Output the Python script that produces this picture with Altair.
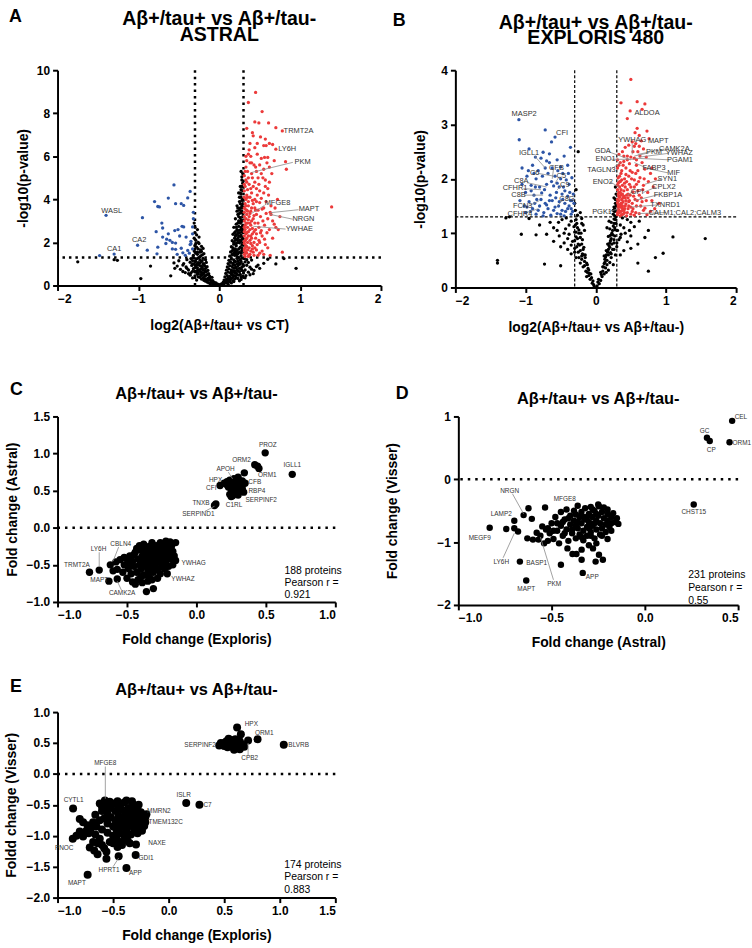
import altair as alt
import pandas as pd

FONT = "Liberation Sans"
RED = "#ec3a3a"
BLUE = "#2d55a6"
LABEL_GREY = "#333333"
LEADER_GREY = "#8a8a8a"
TITLE = "Aβ+/tau+ vs Aβ+/tau-"

# ---------------- Panel A (ASTRAL volcano) ----------------
a_up = [(0.45,8.97),(0.36,8.5),(0.53,8.08),(0.49,7.55),(0.61,7.55),(0.70,7.33),(0.78,7.18),(0.34,7.3),
        (0.41,7.1),(0.42,6.95),(0.57,6.8),(0.62,6.6),(0.66,6.55),(0.70,6.33),(0.55,6.5),(0.58,6.5),(0.36,6.1),
        (0.39,6.0),(0.47,6.1),(0.52,5.9),(0.56,5.95),(0.60,5.95),(0.68,5.8),(0.82,5.75),(0.83,5.4),(0.34,5.8),
        (0.38,5.7),(0.43,5.6),(0.45,5.5),(0.50,5.6),(0.55,5.4),(0.62,5.5),(0.65,5.2),(0.35,5.3),(0.40,5.2),
        (0.48,5.0),(0.52,5.2),(0.57,4.9),(0.62,4.8),(0.33,4.9),(0.37,4.7),(0.42,4.6),(0.46,4.5),(0.50,4.4),
        (0.55,4.3),(0.60,4.5),(0.31,4.4),(0.34,4.2),(0.38,4.1),(0.44,4.0),(0.52,4.05),(0.58,3.9),(0.32,3.8),
        (0.36,3.7),(0.40,3.6),(0.48,3.5),(0.55,3.6),(0.63,3.4),(1.39,3.65),(0.31,3.4),(0.34,3.3),(0.37,3.2),
        (0.42,3.1),(0.46,3.3),(0.51,3.2),(0.60,3.1),(0.64,3.3),(0.31,3.0),(0.35,2.9),(0.39,2.8),(0.44,2.9),
        (0.49,2.7),(0.56,2.8),(0.62,2.6),(0.70,2.7),(0.73,2.6),(0.32,2.6),(0.36,2.5),(0.41,2.4),(0.46,2.4),
        (0.53,2.3),(0.59,2.45),(0.31,2.3),(0.34,2.2),(0.38,2.1),(0.43,2.0),(0.50,2.0),(0.57,1.9),(0.31,1.95),
        (0.33,1.85),(0.37,1.75),(0.41,1.7),(0.46,1.65),(0.53,1.6),(0.78,1.55),(0.31,1.6),(0.34,1.5),(0.38,1.45),
        (0.43,1.4),(0.48,1.4),(0.32,1.35),(0.36,1.35),(0.32,4.6),(0.35,4.45),(0.33,4.0),(0.36,3.9),(0.32,3.55),
        (0.35,3.45),(0.38,3.35),(0.33,3.1),(0.36,3.05),(0.32,2.8),(0.35,2.7),(0.38,2.6),(0.33,2.4),(0.36,2.3),
        (0.32,2.1),(0.35,2.0),(0.39,1.95),(0.32,1.75),(0.35,1.65),(0.31,5.1),(0.33,5.5),(0.37,6.3),(0.44,6.4),
        (0.40,4.3),(0.42,3.8),(0.44,3.6),(0.40,3.0),(0.45,2.6),(0.40,2.2),(0.45,2.2),(0.42,1.55),(0.47,1.9),
        (0.52,2.55),(0.54,3.0),(0.58,3.35),(0.50,3.85),(0.47,4.2),(0.66,3.0),(0.68,2.85),(0.75,3.2),
        (0.31,1.45),(0.33,1.55),(0.31,1.7),(0.34,1.8),(0.31,2.05),(0.33,2.15),(0.31,2.5),(0.34,2.45),
        (0.31,2.7),(0.33,2.9),(0.31,3.2),(0.34,3.5),(0.31,3.6),(0.33,3.7),(0.31,4.1),(0.35,4.1),(0.31,4.7),
        (0.34,4.8),(0.32,5.3),(0.36,5.0),(0.33,6.0),(0.38,6.6),(0.37,1.4),(0.39,1.6),(0.41,1.85),(0.44,1.75),
        (0.39,2.3),(0.43,2.5),(0.41,2.65),(0.38,2.9),(0.43,3.25),(0.39,3.45),(0.45,3.5),(0.41,3.95),(0.46,3.9),
        (0.39,4.5),(0.44,4.8),(0.41,5.0),(0.46,5.3),(0.40,5.7),(0.49,2.1),(0.51,2.45),(0.48,2.9),(0.53,3.55),
        (0.49,4.7),(0.54,5.0),(0.59,5.7),(0.57,4.6),(0.61,4.2),(0.64,3.7),(0.56,2.15),(0.60,1.75),(0.66,2.2),
        (0.69,3.6),(0.72,4.0),(0.50,1.5),(0.55,1.45),(0.63,1.4),(0.47,6.6),(0.51,6.9),(0.44,7.6)]
a_down = [(-1.40,3.26),(-1.01,1.87),(-1.30,1.46),(-1.48,1.39),(-0.56,4.67),(-0.36,4.37),(-0.39,4.07),
          (-0.63,4.06),(-0.80,3.90),(-0.76,3.67),(-0.74,3.65),(-0.54,3.8),(-0.47,3.8),(-0.44,3.72),(-0.95,3.15),
          (-0.71,2.9),(-0.70,2.67),(-0.46,2.75),(-0.44,2.72),(-0.51,2.6),(-0.55,2.55),(-0.78,2.5),(-0.63,2.4),
          (-0.70,2.25),(-0.65,2.15),(-0.61,2.1),(-0.58,2.0),(-0.33,2.4),(-0.35,2.05),(-0.89,1.64),(-0.77,1.47),
          (-0.76,1.78),(-0.54,1.97),(-0.58,1.7),(-0.54,1.68),(-0.47,1.73),(-0.45,1.52),(-0.39,1.63),(-0.35,1.94),
          (-0.33,2.72),(-0.32,3.1),(-0.32,3.4),(-0.33,1.7),(-0.36,1.9),(-0.41,2.25),(-0.49,2.3),(-0.66,1.95),
          (-0.52,1.45),(-0.42,1.4),(-0.37,1.5)]
a_ns = [(-0.05,0.03),(-0.02,0.02),(0.01,0.02),(0.03,0.04),(-0.08,0.06),(0.06,0.07),(-0.13,0.12),(-0.10,0.15),
        (-0.07,0.10),(-0.04,0.12),(0.04,0.10),(0.07,0.14),(0.10,0.12),(0.13,0.18),(-0.17,0.20),(0.17,0.22),
        (-0.22,0.30),(-0.18,0.28),(-0.14,0.33),(-0.11,0.26),(-0.08,0.22),(0.06,0.25),(0.09,0.30),(0.12,0.27),
        (0.15,0.34),(0.19,0.30),(0.23,0.33),(0.27,0.28),(-0.30,0.45),(-0.26,0.40),(-0.22,0.47),(-0.18,0.42),
        (-0.15,0.50),(-0.12,0.44),(-0.09,0.38),(0.07,0.40),(0.10,0.46),(0.13,0.42),(0.16,0.50),(0.20,0.45),
        (0.24,0.48),(0.29,0.43),(0.33,0.46),(-0.36,0.48),(-0.42,0.60),(-0.35,0.58),(-0.30,0.63),(-0.26,0.56),
        (-0.22,0.62),(-0.19,0.57),(-0.16,0.64),(-0.13,0.55),(0.08,0.56),(0.11,0.62),(0.14,0.58),(0.17,0.65),
        (0.21,0.60),(0.25,0.64),(0.30,0.58),(0.36,0.62),(0.42,0.55),(-0.48,0.75),(-0.38,0.72),(-0.32,0.78),
        (-0.27,0.70),(-0.23,0.76),(-0.20,0.72),(-0.17,0.79),(-0.14,0.70),(0.09,0.71),(0.12,0.77),(0.15,0.73),
        (0.18,0.80),(0.22,0.74),(0.27,0.78),(0.32,0.72),(0.40,0.76),(-0.52,0.90),(-0.41,0.86),(-0.34,0.93),
        (-0.29,0.88),(-0.25,0.95),(-0.21,0.86),(-0.18,0.92),(-0.15,0.87),(0.10,0.86),(0.13,0.92),(0.16,0.88),
        (0.19,0.95),(0.23,0.90),(0.28,0.86),(0.34,0.94),(0.46,0.88),(-0.85,0.90),(-0.56,1.05),(-0.44,1.02),
        (-0.36,1.08),(-0.31,1.00),(-0.26,1.06),(-0.22,1.10),(-0.19,1.01),(-0.16,1.07),(0.11,1.02),(0.14,1.08),
        (0.17,1.03),(0.20,1.10),(0.24,1.05),(0.29,1.00),(0.36,1.07),(0.55,1.03),(0.70,1.00),(-0.50,1.15),
        (-0.40,1.20),(-0.33,1.16),(-0.28,1.24),(-0.24,1.18),(-0.20,1.26),(-0.17,1.20),(0.12,1.17),(0.15,1.23),
        (0.18,1.19),(0.22,1.26),(0.26,1.20),(0.31,1.25),(0.40,1.18),(0.60,1.22),(0.80,1.25),(-1.75,1.10),
        (-1.30,1.20),(-1.26,1.17),(-0.32,1.40),(-0.27,1.45),(-0.23,1.38),(-0.19,1.48),(0.13,1.36),(0.16,1.44),
        (0.19,1.40),(0.23,1.48),(0.27,1.38),(-0.31,1.60),(-0.26,1.70),(-0.22,1.58),(-0.20,1.72),(0.14,1.56),
        (0.17,1.66),(0.20,1.60),(0.24,1.70),(0.28,1.62),(-0.30,1.85),(-0.25,1.95),(-0.22,1.82),(0.15,1.80),
        (0.18,1.92),(0.21,1.85),(0.25,1.98),(0.28,1.88),(-0.29,2.10),(-0.25,2.25),(0.16,2.08),(0.19,2.20),
        (0.22,2.12),(0.26,2.28),(0.28,2.15),(-0.30,2.45),(-0.27,2.60),(0.17,2.38),(0.20,2.50),(0.23,2.42),
        (0.26,2.58),(0.29,2.47),(-0.31,2.90),(0.18,2.70),(0.21,2.85),(0.24,2.75),(0.27,2.95),(0.29,2.80),
        (0.20,3.10),(0.23,3.30),(0.26,3.15),(0.28,3.45),(0.25,3.50),(0.22,3.70),(0.25,3.90),(0.27,4.10),
        (0.29,3.80),(0.24,4.30),(0.26,4.60),(0.28,4.90),(0.29,5.20),(0.27,5.30),(-0.97,0.32),(0.95,0.80),
        (-0.60,0.45),(-0.09,0.20),(0.08,0.18),(-0.12,0.36),(0.11,0.34),(-0.20,0.52),(0.15,0.55),(-0.24,0.66),
        (0.19,0.68),(-0.27,0.82),(0.21,0.83),(-0.28,0.98),(0.25,0.98),(-0.30,1.12),(0.27,1.12),(0.24,1.30),
        (0.21,1.52),(0.26,1.78),(0.23,2.0),(0.24,2.3),(0.26,2.9),(0.29,3.2),(0.28,3.6),(0.29,4.4),
        (-0.03,0.08),(0.02,0.06),(-0.06,0.14),(0.05,0.16),(-0.10,0.19),(0.09,0.22),(-0.14,0.24),(0.12,0.20),
        (-0.16,0.30),(0.14,0.28),(-0.20,0.36),(0.17,0.38),(-0.24,0.38),(0.21,0.36),(-0.27,0.52),(0.18,0.46),
        (-0.21,0.55),(0.22,0.52),(-0.17,0.46),(0.26,0.52),(-0.33,0.66),(0.19,0.58),(-0.28,0.62),(0.23,0.68),
        (-0.25,0.72),(0.28,0.70),(-0.21,0.80),(0.15,0.65),(-0.18,0.68),(0.20,0.84),(-0.30,0.82),(0.25,0.80),
        (-0.23,0.90),(0.30,0.90),(-0.27,0.96),(0.17,0.97),(-0.20,0.98),(0.22,1.00),(-0.33,1.00),(0.26,1.05),
        (-0.24,1.04),(0.32,1.10),(-0.29,1.12),(0.19,1.13),(-0.21,1.16),(0.23,1.15),(-0.26,1.28),(0.28,1.28),
        (-0.35,1.25),(0.34,1.20),(-0.45,0.95),(0.38,0.85),(-0.40,0.80),(0.43,0.70),(-0.45,0.65),(0.48,0.95),
        (-0.55,0.80),(0.50,0.80),(-0.38,0.55),(0.38,0.50),(-0.33,0.35),(0.32,0.36),(-0.28,0.25),(0.25,0.22),
        (-0.24,1.32),(-0.21,1.42),(-0.24,1.55),(-0.27,1.55),(-0.23,1.65),(-0.28,1.78),(-0.26,2.00),(-0.28,2.35),
        (0.18,1.50),(0.20,1.70),(0.22,1.62),(0.25,1.55),(0.21,1.95),(0.23,2.20),(0.25,2.10),(0.27,2.35),
        (0.20,2.30),(0.22,2.60),(0.25,2.45),(0.28,2.65),(0.23,2.90),(0.27,3.05),(0.24,3.20),(0.22,3.45),
        (0.26,3.60),(0.28,3.95),(0.26,4.30),(0.28,4.60),(0.29,4.75),(0.00,0.01),(-0.01,0.05),(0.04,0.02),
        (-0.11,0.08),(0.11,0.06),(-0.15,0.16),(0.15,0.12),(-0.19,0.24),(0.18,0.18),(-0.23,0.50),(0.27,0.40),
        (0.27,1.50),(0.28,1.72),(0.29,1.95),(0.27,2.05),(0.29,2.25),(0.28,2.50),(0.29,2.60),(0.27,2.70),
        (0.28,3.00),(0.29,3.35),(0.27,3.40),(0.28,3.70),(0.29,4.00),(0.27,4.45),(0.28,5.05),(0.22,1.35),
        (0.20,1.45),(0.19,1.62),(0.16,1.60),(0.17,1.75),(0.18,2.00),(0.20,2.10),(0.21,2.35),(0.19,2.45),
        (0.23,2.55),(0.21,2.70),(0.24,3.00),(0.25,3.35),(0.23,3.60),(0.26,3.80),(0.25,4.10),(0.27,4.25),
        (-0.32,1.30),(-0.29,1.50),(-0.30,1.70),(-0.29,1.95),(-0.31,2.20),(-0.30,2.70)]
a_labels = [("TRMT2A",0.98,7.18),("LY6H",0.84,6.33),("PKM",1.03,5.74),("MFGE8",0.72,3.83),
            ("MAPT",1.11,3.55),("NRGN",1.04,3.08),("YWHAE",0.99,2.62),("WASL",-1.33,3.44),
            ("CA2",-0.99,2.10),("CA1",-1.30,1.69)]
a_leaders = [(0.40,5.25,0.91,5.72),(0.40,3.35,0.56,3.72),(0.63,3.38,0.98,3.52),(0.63,3.30,0.91,3.08),
             (0.42,2.75,0.82,2.62)]

# ---------------- Panel B (EXPLORIS volcano) ----------------
b_up = [(0.50,3.83),(0.36,3.40),(0.59,3.42),(0.70,3.38),(0.66,3.28),(0.45,3.11),(0.59,2.93),(0.73,2.88),
        (0.76,2.74),(0.62,2.80),(0.47,2.62),(0.52,2.68),(0.55,2.60),(0.42,2.58),(0.38,2.50),(0.60,2.50),
        (0.68,2.55),(0.33,2.45),(0.45,2.42),(0.50,2.40),(0.55,2.38),(0.63,2.42),(0.72,2.40),(0.35,2.30),
        (0.40,2.32),(0.48,2.28),(0.58,2.25),(0.66,2.30),(0.31,2.20),(0.37,2.15),(0.43,2.20),(0.52,2.12),
        (0.60,2.15),(0.70,2.18),(0.78,2.10),(0.34,2.05),(0.41,2.00),(0.47,2.05),(0.55,1.98),(0.63,2.02),
        (0.85,2.00),(0.32,1.92),(0.38,1.88),(0.44,1.95),(0.50,1.85),(0.58,1.90),(0.68,1.88),(0.31,1.80),
        (0.35,1.75),(0.40,1.78),(0.46,1.72),(0.53,1.76),(0.62,1.70),(0.74,1.75),(0.33,1.68),(0.37,1.62),
        (0.42,1.65),(0.48,1.60),(0.56,1.62),(0.66,1.58),(0.80,1.60),(0.31,1.56),(0.34,1.52),(0.38,1.50),
        (0.43,1.54),(0.50,1.48),(0.58,1.50),(0.70,1.46),(0.90,1.55),(0.32,1.44),(0.36,1.40),(0.40,1.42),
        (0.45,1.38),(0.52,1.40),(0.62,1.36),(0.78,1.40),(0.31,1.34),(0.35,1.32),(0.39,1.35),(0.44,1.32),
        (0.55,1.33),(0.33,1.60),(0.36,1.70),(0.34,1.85),(0.39,1.58),(0.41,1.45),(0.47,1.50),(0.37,1.98),
        (0.42,1.85),(0.32,1.48),(0.34,1.38),(0.36,1.55),(0.38,1.42),(0.33,1.75),(0.35,1.95),(0.40,1.68),
        (0.45,1.80),(0.49,2.15),(0.53,2.50),(0.57,2.65),
        (0.31,1.38),(0.33,1.42),(0.32,1.52),(0.35,1.48),(0.31,1.62),(0.34,1.66),(0.32,1.72),(0.36,1.80),
        (0.31,1.88),(0.34,1.95),(0.32,2.02),(0.36,2.10),(0.33,2.25),(0.31,2.35),(0.37,1.34),(0.38,1.46),
        (0.37,1.55),(0.39,1.65),(0.38,1.72),(0.41,1.38),(0.42,1.50),(0.43,1.60),(0.44,1.70),(0.41,1.92),
        (0.43,2.08),(0.39,2.25),(0.45,2.35),(0.40,2.42),(0.46,1.45),(0.47,1.58),(0.46,1.65),(0.49,1.70),
        (0.48,1.90),(0.51,2.00),(0.50,1.35),(0.52,1.55),(0.54,1.68),(0.55,1.85),(0.53,1.45),(0.57,1.38),
        (0.59,1.60),(0.60,1.78),(0.61,1.95),(0.57,2.10),(0.64,1.50),(0.65,1.65),(0.67,1.80),(0.69,2.00),
        (0.72,1.60),(0.75,1.95),(0.68,1.42),(0.73,1.34),(0.82,1.85),(0.84,1.45),(0.62,2.60),(0.65,2.70),
        (0.58,2.35),(0.56,2.85),(0.49,3.25),(0.80,2.20)]
b_down = [(-1.095,3.09),(-1.09,2.72),(-0.72,2.90),(-0.63,2.68),(-0.58,2.77),(-0.36,2.58),(-0.75,2.49),
          (-0.66,2.46),(-0.95,2.55),(-0.86,2.40),(-0.78,2.38),(-0.70,2.33),(-0.55,2.35),(-0.45,2.42),
          (-1.05,2.20),(-0.90,2.25),(-0.82,2.15),(-0.62,2.20),(-0.50,2.22),(-0.40,2.25),(-0.98,2.05),
          (-0.85,2.00),(-0.76,2.05),(-0.68,2.10),(-0.58,2.05),(-0.50,2.00),(-0.42,1.98),(-0.34,2.02),
          (-1.05,1.90),(-0.92,1.88),(-0.80,1.85),(-0.70,1.90),(-0.60,1.87),(-0.55,1.92),(-0.46,1.85),
          (-0.38,1.90),(-1.00,1.75),(-0.88,1.70),(-0.77,1.74),(-0.65,1.70),(-0.56,1.75),(-0.48,1.72),
          (-0.40,1.68),(-0.32,1.72),(-1.08,1.60),(-0.95,1.58),(-0.84,1.62),(-0.72,1.55),(-0.62,1.60),
          (-0.52,1.58),(-0.44,1.55),(-0.36,1.60),(-0.90,1.45),(-0.80,1.50),(-0.68,1.45),(-0.58,1.48),
          (-0.48,1.42),(-0.40,1.45),(-0.33,1.40),(-1.00,1.38),(-0.85,1.35),(-0.74,1.38),(-0.64,1.33),
          (-0.55,1.36),(-0.45,1.32),(-0.35,1.35),
          (-0.98,1.48),(-0.93,1.40),(-0.87,1.55),(-0.82,1.42),(-0.78,1.62),(-0.75,1.32),(-0.70,1.52),
          (-0.66,1.60),(-0.60,1.42),(-0.57,1.65),(-0.53,1.50),(-0.50,1.35),(-0.47,1.62),(-0.43,1.40),
          (-0.38,1.50),(-0.34,1.60),(-0.92,1.78),(-0.86,1.85),(-0.73,1.80),(-0.63,1.95),(-0.52,1.85),
          (-0.44,1.78),(-0.37,1.75),(-0.96,2.15),(-0.88,2.10),(-0.72,2.20),(-0.66,2.30),(-0.54,2.15),
          (-0.47,2.10),(-0.39,2.10),(-0.35,1.45),(-0.31,1.55),(-1.02,1.50)]
b_ns = [(-0.02,0.02),(0.02,0.03),(-0.05,0.08),(0.05,0.07),(-0.08,0.15),(0.07,0.13),(-0.10,0.22),(-0.06,0.18),
        (0.09,0.20),(0.12,0.25),(-0.14,0.30),(-0.11,0.35),(-0.18,0.38),(0.10,0.30),(0.14,0.36),(0.18,0.32),
        (-0.22,0.45),(-0.16,0.48),(-0.12,0.42),(0.12,0.44),(0.16,0.50),(0.20,0.46),(0.25,0.42),(-0.28,0.55),
        (-0.20,0.58),(-0.15,0.55),(0.14,0.56),(0.18,0.60),(0.22,0.55),(0.28,0.60),(-0.35,0.62),(0.35,0.60),
        (-0.40,0.70),(-0.30,0.72),(-0.22,0.68),(-0.17,0.74),(0.15,0.68),(0.20,0.74),(0.24,0.70),(0.30,0.75),
        (0.40,0.68),(-0.50,0.75),(0.50,0.72),(-0.45,0.82),(-0.33,0.85),(-0.25,0.80),(-0.19,0.88),(0.17,0.80),
        (0.21,0.86),(0.26,0.82),(0.33,0.88),(0.45,0.84),(0.60,0.80),(-0.60,0.85),(-0.52,0.95),(-0.38,0.98),
        (-0.28,0.93),(-0.21,1.00),(0.18,0.94),(0.23,1.00),(0.27,0.95),(0.36,0.98),(0.50,0.95),(0.70,0.92),
        (-0.70,0.98),(-0.85,0.97),(-1.06,0.98),(-0.60,1.10),(-0.43,1.08),(-0.31,1.12),(-0.24,1.06),
        (-0.18,1.15),(0.20,1.08),(0.25,1.13),(0.28,1.06),(0.40,1.10),(0.55,1.12),(0.75,1.05),(-0.80,1.15),
        (-0.65,1.20),(-0.48,1.25),(-0.35,1.22),(-0.27,1.18),(-0.20,1.27),(0.22,1.20),(0.26,1.26),(0.29,1.18),
        (0.45,1.25),(0.62,1.22),(-1.28,1.28),(-1.23,1.30),(-0.95,1.27),(-0.25,2.50),(-0.28,1.80),
        (-0.30,1.55),(-0.22,1.38),(0.25,1.35),(0.27,1.45),(0.28,1.55),(0.26,1.65),(0.29,1.72),(0.28,1.85),
        (0.27,1.40),(0.29,1.50),(1.10,0.93),(1.56,0.90),(0.96,0.63),(-1.40,0.50),(-1.40,0.45),(-0.73,0.43),
        (0.60,0.45),(0.75,0.30),(-0.50,0.40),(0.85,0.55),(-0.03,0.05),(0.03,0.10),(-0.12,0.28),(0.11,0.38),
        (-0.19,0.62),(0.17,0.65),(-0.23,0.78),(0.19,0.77),(-0.26,0.90),(0.22,0.90),(-0.28,1.02),(0.24,0.97),
        (-0.29,1.15),(0.27,1.10),(-0.16,0.40),(0.13,0.52),(-0.20,0.52),(0.16,0.42),(-0.25,0.65),(0.21,0.64),
        (-0.27,0.75),(0.23,0.80),(-0.30,0.86),(0.26,0.88),(-0.09,0.26),(0.08,0.24),(-0.13,0.20),(0.15,0.28),
        (-0.04,0.12),(0.04,0.15),(-0.07,0.25),(0.07,0.28),(-0.10,0.32),(0.10,0.38),(-0.13,0.45),(0.13,0.46),
        (-0.15,0.60),(0.15,0.60),(-0.18,0.70),(0.18,0.70),(-0.20,0.80),(0.20,0.82),(-0.22,0.92),(0.21,0.96),
        (-0.24,1.00),(0.24,1.05),(-0.26,1.10),(0.26,1.18),(-0.28,1.25),(0.28,1.25),(-0.17,0.60),(0.12,0.58),
        (-0.24,0.55),(0.22,0.62),(-0.30,0.65),(0.26,0.70),(-0.35,0.78),(0.30,0.82),(-0.40,0.90),(0.35,0.92),
        (-0.45,1.00),(0.42,1.00),(-0.55,1.05),(0.48,1.05),(-0.30,1.02),(0.31,1.05),(-0.38,1.15),(0.35,1.15),
        (-0.42,1.28),(0.38,1.28),(-0.53,1.20),(0.50,1.20),(-0.16,1.05),(0.16,1.10),(-0.20,1.18),(0.19,1.22),
        (0.27,1.32),(0.26,1.48),(0.28,1.62),(0.29,1.30),(0.25,1.42),(-0.26,1.33),(-0.29,1.42)]
b_labels = [("MASP2",-1.02,3.20),("CFI",-0.48,2.84),("IGLL1",-0.95,2.47),("CFB",-0.56,2.20),("C6",-0.87,2.11),
            ("C5",-0.49,2.05),("C8A",-1.06,1.96),("C9",-0.44,1.88),("CFHR1",-1.15,1.83),("C8B",-1.10,1.71),
            ("C8G",-0.41,1.62),("FCN3",-1.04,1.50),("CFHR4",-1.08,1.36),("ALDOA",0.73,3.21),
            ("YWHAG",0.52,2.72),("MAPT",0.89,2.69),("CAMK2A",1.12,2.55),("PKM",0.83,2.49),
            ("YWHAZ",1.19,2.48),("GDA",0.10,2.52),("PGAM1",1.20,2.35),("ENO1",0.14,2.36),("FABP3",0.83,2.20),
            ("TAGLN3",0.08,2.16),("MIF",1.11,2.11),("SYN1",1.02,1.99),("ENO2",0.10,1.95),("CPLX2",0.97,1.85),
            ("GPI",0.59,1.76),("FKBP1A",1.03,1.71),("TXNRD1",0.99,1.52),("PGK1",0.09,1.39),
            ("CALM1;CAL2;CALM3",1.27,1.38)]
b_leaders = [(-0.87,2.42,-0.72,2.20),(-0.82,2.10,-0.60,2.05),(-1.03,1.82,-0.78,1.80),(-1.02,1.70,-0.75,1.70),
             (-0.98,1.93,-0.70,1.85),(-0.96,1.50,-0.80,1.60),(-0.98,1.38,-0.82,1.45),(-0.46,1.62,-0.55,1.50),
             (-0.48,1.88,-0.55,1.80),(-0.52,2.04,-0.58,1.92),(-0.60,2.20,-0.62,2.00),(0.52,2.65,0.52,2.45),
             (0.18,2.50,0.50,2.35),(0.22,2.36,0.55,2.36),(0.76,2.48,0.55,2.42),(0.98,2.55,0.60,2.45),
             (1.04,2.47,0.62,2.40),(1.05,2.35,0.55,2.38),(0.72,2.20,0.55,2.30),(0.20,2.16,0.35,2.30),
             (1.03,2.11,0.70,2.20),(0.93,1.99,0.70,1.90),(0.20,1.95,0.33,1.85),(0.86,1.85,0.68,1.75),
             (0.52,1.76,0.45,1.70),(0.90,1.71,0.55,1.60),(0.88,1.52,0.50,1.48),(0.18,1.39,0.32,1.45),
             (1.00,1.38,0.60,1.36)]

# ---------------- Panel C (Exploris vs Astral) ----------------
c_pts = [(0.495,1.01),(0.42,0.85),(0.44,0.83),(0.45,0.80),(0.69,0.72),(0.345,0.74),(0.17,0.57),(0.20,0.60),
         (0.22,0.62),(0.24,0.64),(0.26,0.63),(0.27,0.59),(0.29,0.62),(0.31,0.60),(0.33,0.63),(0.35,0.60),
         (0.23,0.55),(0.25,0.52),(0.27,0.50),(0.29,0.54),(0.31,0.50),(0.33,0.53),(0.34,0.48),(0.24,0.45),
         (0.26,0.43),(0.28,0.47),(0.30,0.44),(0.27,0.66),(0.30,0.68),(0.22,0.58),(0.14,0.32),(0.13,0.30),
         (0.25,0.42),
         (-0.48,-0.38),(-0.46,-0.45),(-0.45,-0.52),(-0.44,-0.33),(-0.43,-0.60),(-0.42,-0.42),(-0.41,-0.50),
         (-0.40,-0.30),(-0.40,-0.56),(-0.39,-0.38),(-0.38,-0.46),(-0.38,-0.64),(-0.37,-0.28),(-0.37,-0.52),
         (-0.36,-0.35),(-0.36,-0.42),(-0.35,-0.58),(-0.35,-0.48),(-0.34,-0.25),(-0.34,-0.66),(-0.33,-0.32),
         (-0.33,-0.40),(-0.33,-0.54),(-0.32,-0.46),(-0.31,-0.28),(-0.31,-0.60),(-0.30,-0.36),(-0.30,-0.50),
         (-0.29,-0.42),(-0.29,-0.24),(-0.28,-0.55),(-0.28,-0.32),(-0.27,-0.46),(-0.27,-0.38),(-0.26,-0.28),
         (-0.26,-0.62),(-0.25,-0.50),(-0.25,-0.34),(-0.24,-0.42),(-0.24,-0.22),(-0.23,-0.30),(-0.22,-0.38),
         (-0.22,-0.47),(-0.21,-0.26),(-0.20,-0.34),(-0.19,-0.42),(-0.18,-0.25),(-0.17,-0.32),(-0.16,-0.38),
         (-0.15,-0.20),(-0.19,-0.19),(-0.15,-0.44),(-0.21,-0.62),(-0.23,-0.55),(-0.20,-0.52),(-0.42,-0.70),
         (-0.44,-0.76),(-0.46,-0.73),(-0.40,-0.66),(-0.36,-0.86),(-0.31,-0.82),(-0.50,-0.42),(-0.52,-0.40),
         (-0.53,-0.60),(-0.55,-0.43),(-0.57,-0.56),(-0.58,-0.46),(-0.60,-0.58),(-0.62,-0.50),(-0.57,-0.69),
         (-0.63,-0.72),(-0.70,-0.57),(-0.77,-0.60),(-0.49,-0.55),(-0.47,-0.62),(-0.50,-0.68),(-0.32,-0.70),
         (-0.28,-0.68),(-0.35,-0.72),(-0.39,-0.74),(-0.43,-0.28),(-0.45,-0.36),(-0.41,-0.24),(-0.38,-0.22),
         (-0.32,-0.20),(-0.26,-0.20),(-0.22,-0.18),(-0.17,-0.50),(-0.48,-0.48),(-0.52,-0.50)]
c_labels = [("PROZ",0.514,1.12),("ORM2",0.324,0.91),("IGLL1",0.69,0.845),("APOH",0.21,0.79),("ORM1",0.51,0.71),
            ("HPX",0.138,0.65),("CFB",0.42,0.61),("CFI",0.107,0.53),("RBP4",0.435,0.49),("SERPINF2",0.466,0.38),
            ("TNXB",0.033,0.34),("C1RL",0.271,0.30),("SERPIND1",0.014,0.19),("CBLN4",-0.545,-0.22),
            ("LY6H",-0.705,-0.29),("TRMT2A",-0.86,-0.50),("YWHAG",-0.02,-0.48),("YWHAZ",-0.097,-0.69),
            ("MAPT",-0.70,-0.71),("CAMK2A",-0.535,-0.88)]
c_leaders = [(-0.70,-0.33,-0.70,-0.52),(-0.56,-0.26,-0.60,-0.45),(-0.54,-0.84,-0.57,-0.72),
             (0.23,0.75,0.26,0.66),(0.06,0.22,0.13,0.29)]
c_stats = [("188 proteins",0.634,-0.58),("Pearson r =",0.634,-0.745),("0.921",0.634,-0.91)]

# ---------------- Panel D (Astral vs Visser) ----------------
d_pts = [(0.468,0.93),(0.333,0.66),(0.348,0.61),(0.454,0.59),(0.262,-0.40),
         (-0.535,-0.45),(-0.52,-0.78),(-0.51,-0.86),(-0.50,-0.70),(-0.49,-0.95),(-0.48,-0.60),(-0.47,-0.82),
         (-0.46,-1.02),(-0.45,-0.52),(-0.45,-0.74),(-0.44,-0.90),(-0.43,-0.64),(-0.42,-0.48),(-0.42,-0.80),
         (-0.41,-0.98),(-0.40,-0.58),(-0.40,-0.72),(-0.39,-0.86),(-0.38,-0.50),(-0.38,-0.66),(-0.37,-0.94),
         (-0.36,-0.78),(-0.36,-0.42),(-0.35,-0.60),(-0.35,-0.88),(-0.34,-0.70),(-0.34,-0.52),(-0.33,-0.82),
         (-0.33,-0.97),(-0.32,-0.46),(-0.32,-0.64),(-0.31,-0.76),(-0.31,-0.90),(-0.30,-0.55),(-0.30,-0.68),
         (-0.29,-0.84),(-0.29,-0.44),(-0.28,-0.60),(-0.28,-0.74),(-0.27,-0.94),(-0.27,-0.50),(-0.26,-0.66),
         (-0.26,-0.80),(-0.25,-0.40),(-0.25,-0.58),(-0.24,-0.88),(-0.24,-0.70),(-0.23,-0.52),(-0.23,-0.78),
         (-0.22,-0.62),(-0.22,-0.45),(-0.21,-0.84),(-0.21,-0.72),(-0.20,-0.56),(-0.20,-0.66),(-0.19,-0.76),
         (-0.18,-0.60),(-0.18,-0.70),(-0.17,-0.54),(-0.16,-0.68),(-0.15,-0.62),(-0.142,-0.71),(-0.20,-0.95),
         (-0.246,-0.43),(-0.26,-1.02),(-0.30,-1.05),(-0.415,-1.10),(-0.388,-1.19),(-0.367,-1.19),
         (-0.339,-1.12),(-0.278,-1.10),(-0.246,-1.20),(-0.225,-1.28),(-0.264,-1.31),(-0.339,-1.28),
         (-0.45,-1.36),(-0.333,-1.49),(-0.53,-0.80),(-0.55,-0.75),(-0.56,-0.90),(-0.57,-0.96),(-0.54,-1.02),
         (-0.52,-0.98),(-0.60,-0.96),(-0.58,-0.85),(-0.624,-0.46),(-0.65,-0.57),(-0.606,-0.63),
         (-0.63,-0.94),(-0.70,-0.66),(-0.743,-0.79),(-0.70,-0.78),(-0.68,-0.83),(-0.832,-0.77),(-0.67,-1.31),
         (-0.636,-1.61),(-0.44,-0.68),(-0.37,-0.56),(-0.31,-0.60),(-0.27,-0.70),(-0.34,-0.92),(-0.39,-0.80),
         (-0.43,-0.86),(-0.47,-0.70),(-0.49,-0.82),(-0.41,-0.62),(-0.36,-0.68),(-0.29,-0.90),(-0.23,-0.90),
         (-0.18,-0.82),(-0.20,-0.48),(-0.28,-0.48),(-0.33,-0.60),(-0.26,-0.55),(-0.30,-0.78),(-0.37,-0.74)]
d_labels = [("CEL",0.515,0.99),("GC",0.32,0.77),("CP",0.356,0.46),("ORM1",0.52,0.57),("CHST15",0.262,-0.52),
            ("MFGE8",-0.429,-0.31),("NRGN",-0.725,-0.18),("LAMP2",-0.77,-0.55),("MEGF9",-0.885,-0.93),
            ("LY6H",-0.77,-1.31),("BASP1",-0.58,-1.34),("PKM",-0.486,-1.66),("MAPT",-0.636,-1.74),
            ("APP",-0.282,-1.55)]
d_leaders = [(-0.71,-0.23,-0.65,-0.55),(-0.76,-1.25,-0.70,-0.86),(-0.49,-1.60,-0.56,-0.92)]
d_stats = [("231 proteins",0.232,-1.52),("Pearson r =",0.232,-1.73),("0.55",0.232,-1.93)]

# ---------------- Panel E (Exploris vs Visser) ----------------
e_pts = [(0.616,0.75),(0.65,0.64),(0.80,0.56),(1.036,0.47),(0.715,0.54),(0.455,0.46),(0.50,0.50),(0.52,0.53),
         (0.54,0.57),(0.56,0.55),(0.58,0.50),(0.60,0.56),(0.55,0.47),(0.57,0.44),(0.589,0.39),(0.64,0.40),
         (0.62,0.45),(0.66,0.48),(0.53,0.43),(0.50,0.45),(0.60,0.50),(0.64,0.53),(0.68,0.44),(0.47,0.50),
         (0.158,-0.47),(0.277,-0.50),
         (-0.86,-0.56),(-0.863,-1.05),(-0.729,-1.63),(-0.38,-1.52),(-0.45,-1.33),(-0.297,-1.31),(-0.294,-1.14),
         (-0.20,-0.65),(-0.21,-0.70),(-0.21,-0.78),(-0.574,-0.43),(-0.80,-0.93),(-0.83,-1.00),(-0.77,-1.01),
         (-0.72,-0.96),(-0.71,-1.19),(-0.67,-1.24),(-0.64,-1.30),(-0.56,-1.26),(-0.56,-1.37),(-0.80,-0.73),
         (-0.77,-0.78),(-0.73,-0.83),(-0.62,-0.48),(-0.66,-0.66),(-0.60,-0.60),(-0.62,-0.75),(-0.60,-0.90),
         (-0.62,-1.05),(-0.60,-1.15),(-0.58,-1.20),(-0.55,-0.50),(-0.55,-0.65),(-0.55,-0.80),(-0.55,-0.95),
         (-0.53,-1.10),(-0.52,-0.55),(-0.52,-0.70),(-0.50,-0.85),(-0.50,-1.00),(-0.50,-0.48),(-0.48,-0.60),
         (-0.48,-0.75),(-0.47,-0.90),(-0.47,-1.05),(-0.45,-0.52),(-0.45,-0.68),(-0.44,-0.82),(-0.44,-0.96),
         (-0.43,-1.10),(-0.42,-0.58),(-0.42,-0.72),(-0.41,-0.86),(-0.40,-1.00),(-0.40,-0.46),(-0.39,-0.64),
         (-0.38,-0.78),(-0.38,-0.92),(-0.37,-1.08),(-0.36,-0.55),(-0.36,-0.70),(-0.35,-0.84),(-0.34,-0.98),
         (-0.33,-0.44),(-0.33,-0.62),(-0.32,-0.76),(-0.31,-0.90),(-0.30,-0.52),(-0.30,-0.68),(-0.29,-0.82),
         (-0.28,-0.96),(-0.28,-0.58),(-0.27,-0.72),(-0.26,-0.86),(-0.25,-0.62),(-0.25,-0.78),(-0.24,-0.92),
         (-0.23,-0.70),(-0.22,-0.84),(-0.65,-0.85),(-0.68,-0.78),(-0.70,-0.88),(-0.74,-0.92),(-0.66,-0.98),
         (-0.64,-1.12),(-0.68,-1.10),(-0.58,-0.72),(-0.57,-0.58),(-0.46,-1.18),(-0.42,-1.15),(-0.35,-1.12),
         (-0.60,-0.53),(-0.53,-0.45),(-0.46,-0.44),(-0.38,-0.43),(-0.32,-0.50),(-0.27,-0.50),(-0.50,-1.12)]
e_labels = [("HPX",0.744,0.80),("ORM1",0.86,0.66),("BLVRB",1.17,0.46),("SERPINF2",0.283,0.46),("CPB2",0.73,0.25),
            ("MFGE8",-0.57,0.18),("ISLR",0.135,-0.34),("C7",0.35,-0.50),("CYTL1",-0.855,-0.42),
            ("MMRN2",-0.088,-0.60),("TMEM132C",-0.027,-0.78),("NAXE",-0.104,-1.11),("PNOC",-0.94,-1.20),
            ("GDI1",-0.203,-1.36),("HPRT1",-0.536,-1.56),("APP",-0.30,-1.60),("MAPT",-0.826,-1.76)]
e_leaders = [(-0.57,0.12,-0.57,-0.40),(0.715,0.30,0.715,0.50),(-0.50,-1.50,-0.45,-1.36)]
e_stats = [("174 proteins",1.04,-1.47),("Pearson r =",1.04,-1.67),("0.883",1.04,-1.87)]


def pts_frame(groups):
    rows = []
    for g, pts in groups:
        for x, y in pts:
            rows.append({"x": x, "y": y, "g": g})
    return pd.DataFrame(rows)


def text_at(txt, px, py, size, weight, align):
    return alt.Chart(pd.DataFrame({"t": [txt]})).mark_text(
        font=FONT, fontSize=size, fontWeight=weight, color="black", align=align,
        baseline="alphabetic").encode(x=alt.value(px), y=alt.value(py), text="t:N")


def panel(points, labels, leaders, stats, xdom, ydom, xvals, yvals, xfmt, yfmt, xtitle, ytitle,
          title_lines, title_size, title_ys, letter, letter_xy, w, h, hlines, vlines, dash, dash_w,
          dot_size, label_size, xtitle_pad, ytitle_pad, colored):
    xs = alt.Scale(domain=xdom, nice=False, zero=False)
    ys = alt.Scale(domain=ydom, nice=False, zero=False)
    xax = alt.Axis(values=xvals, format=xfmt, title=xtitle, titlePadding=xtitle_pad)
    yax = alt.Axis(values=yvals, format=yfmt, title=ytitle, titlePadding=ytitle_pad)

    def X(f):
        return alt.X(f"{f}:Q", scale=xs, axis=xax)

    def Y(f):
        return alt.Y(f"{f}:Q", scale=ys, axis=yax)

    layers = []
    if hlines:
        layers.append(alt.Chart(pd.DataFrame({"y": hlines})).mark_rule(
            color="black", strokeDash=dash, strokeWidth=dash_w).encode(y=Y("y")))
    if vlines:
        layers.append(alt.Chart(pd.DataFrame({"x": vlines})).mark_rule(
            color="black", strokeDash=dash, strokeWidth=dash_w).encode(x=X("x")))
    if colored:
        layers.append(alt.Chart(points).mark_circle(size=dot_size, opacity=1).encode(
            x=X("x"), y=Y("y"),
            color=alt.Color("g:N", scale=alt.Scale(domain=["ns", "up", "down"],
                                                   range=["black", RED, BLUE]), legend=None)))
    else:
        layers.append(alt.Chart(points).mark_circle(size=dot_size, opacity=1, color="black").encode(
            x=X("x"), y=Y("y")))
    if leaders:
        ldf = pd.DataFrame(leaders, columns=["x1", "y1", "x2", "y2"])
        layers.append(alt.Chart(ldf).mark_rule(color=LEADER_GREY, strokeWidth=0.8).encode(
            x=X("x1"), y=Y("y1"), x2="x2:Q", y2="y2:Q"))
    tdf = pd.DataFrame(labels, columns=["t", "x", "y"])
    layers.append(alt.Chart(tdf).mark_text(font=FONT, fontSize=label_size, color=LABEL_GREY,
                                           align="center", baseline="middle").encode(
        x=X("x"), y=Y("y"), text="t:N"))
    if stats:
        sdf = pd.DataFrame(stats, columns=["t", "x", "y"])
        layers.append(alt.Chart(sdf).mark_text(font=FONT, fontSize=10.5, color="black",
                                               align="left", baseline="middle").encode(
            x=X("x"), y=Y("y"), text="t:N"))
    for line, ty in zip(title_lines, title_ys):
        layers.append(text_at(line, w / 2, ty, title_size, "bold", "center"))
    layers.append(text_at(letter, letter_xy[0], letter_xy[1], 18, "bold", "left"))
    return alt.layer(*layers).properties(width=w, height=h)


A = panel(pts_frame([("ns", a_ns), ("down", a_down), ("up", a_up)]), a_labels, a_leaders, None,
          [-2, 2], [0, 10], [-2, -1, 0, 1, 2], [0, 2, 4, 6, 8, 10], "d", "d",
          "log2(Aβ+/tau+ vs CT)", "-log10(p-value)", [TITLE, "ASTRAL"], 19.7, [-46, -29], "A", (-49, -49),
          326, 217, [1.3], [-0.3, 0.3], [2.5, 4], 2.5, 11, 7.5, 14, 6, True)
B = panel(pts_frame([("ns", b_ns), ("down", b_down), ("up", b_up)]), b_labels, b_leaders, None,
          [-2, 2], [0, 4], [-2, -1, 0, 1, 2], [0, 1, 2, 3, 4], "d", "d",
          "log2(Aβ+/tau+ vs Aβ+/tau-)", "-log10(p-value)", [TITLE, "EXPLORIS 480"], 19.7, [-42, -26],
          "B", (-63, -45), 283, 219, [1.3], [-0.3, 0.3], [3, 2], 1.2, 11, 7.5, 14, 13, True)
C = panel(pts_frame([("ns", c_pts)]), c_labels, c_leaders, c_stats,
          [-1, 1], [-1, 1.5], [-1, -0.5, 0, 0.5, 1], [-1, -0.5, 0, 0.5, 1, 1.5], ".1f", ".1f",
          "Fold change (Exploris)", "Fold change (Astral)", [TITLE], 16.5, [-18], "C", (-48, -22),
          280, 187, [0], None, [2.5, 5], 2.5, 55, 6.5, 12, 7, False)
D = panel(pts_frame([("ns", d_pts)]), d_labels, d_leaders, d_stats,
          [-1, 0.5], [-2, 1], [-1, -0.5, 0, 0.5], [-2, -1, 0, 1], ".1f", "d",
          "Fold change (Astral)", "Fold change (Visser)", [TITLE], 16.5, [-13], "D", (-63, -18),
          282, 190, [0], None, [2.5, 5], 2.5, 42, 6.5, 12, 38, False)
E = panel(pts_frame([("ns", e_pts)]), e_labels, e_leaders, e_stats,
          [-1, 1.5], [-2, 1], [-1, -0.5, 0, 0.5, 1, 1.5], [-2, -1.5, -1, -0.5, 0, 0.5, 1], ".1f", ".1f",
          "Fold change (Exploris)", "Foldd change (Visser)", [TITLE], 16.5, [-17], "E", (-48, -20),
          280, 187, [0], None, [2.5, 5], 2.5, 65, 6.5, 12, 8, False)

row1 = alt.hconcat(A, B, spacing=10)
row2 = alt.hconcat(C, D, spacing=43)
lower = alt.vconcat(row2, E, spacing=29)
chart = alt.vconcat(row1, lower, spacing=47).properties(
    padding={"left": 4, "top": 4, "right": 0, "bottom": 0}
).configure_view(stroke=None).configure_axis(
    domainColor="black", domainWidth=2, tickColor="black", tickWidth=2, tickSize=5, grid=False,
    labelFont=FONT, labelFontSize=12, labelFontWeight="bold", labelColor="black", labelPadding=3,
    titleFont=FONT, titleFontSize=14, titleFontWeight="bold", titleColor="black"
)

chart.save("out.html", embed_options={"renderer": "svg", "actions": False})
